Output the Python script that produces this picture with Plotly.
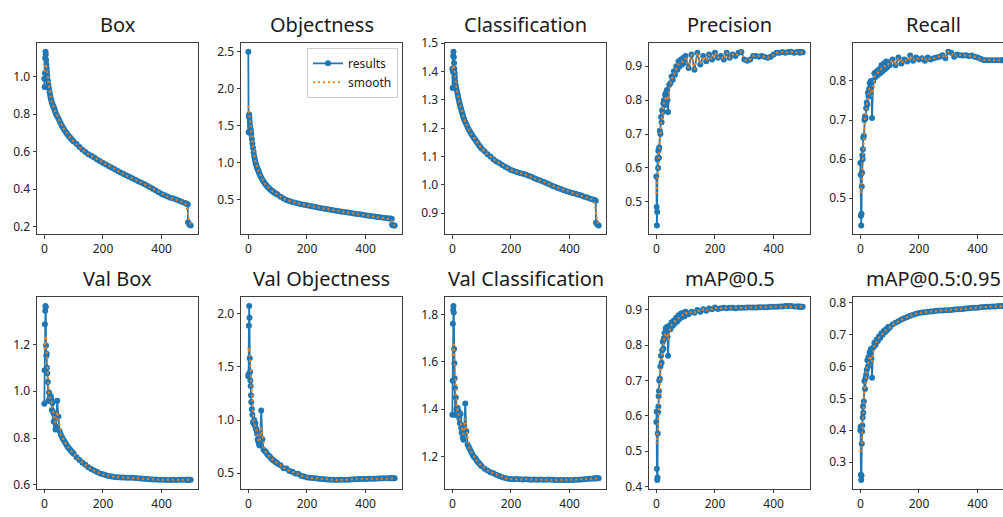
import numpy as np
import plotly.graph_objects as go

# ---------------- data ----------------
epochs = [0, 1, 2, 3, 4, 5, 6, 7, 8, 9, 10,
          12, 14, 16, 18, 20, 22, 24, 26, 28, 30, 32, 34, 36, 38, 40,
          44, 48, 52, 56, 60, 64, 68, 72, 76, 80, 84, 88, 92, 96, 100,
          110, 120, 130, 140, 150, 160, 170, 180, 190, 200,
          210, 220, 230, 240, 250, 260, 270, 280, 290, 300,
          310, 320, 330, 340, 350, 360, 370, 380, 390, 400,
          410, 420, 430, 440, 450, 460, 470, 480,
          485, 489, 490, 494, 499]

box = [0.99, 0.945, 1.02, 1.10, 1.134, 1.12, 1.09, 1.065, 1.045, 1.025, 1.005,
       0.98, 0.958, 0.938, 0.918, 0.90, 0.885, 0.872, 0.862, 0.852, 0.845, 0.837, 0.829, 0.82, 0.81, 0.802,
       0.789, 0.777, 0.764, 0.751, 0.738, 0.728, 0.718, 0.708, 0.699, 0.691, 0.683, 0.676, 0.668, 0.661, 0.655,
       0.641, 0.625, 0.611, 0.598, 0.587, 0.578, 0.569, 0.558, 0.549, 0.54,
       0.532, 0.523, 0.514, 0.506, 0.497, 0.489, 0.481, 0.473, 0.466, 0.458,
       0.451, 0.443, 0.436, 0.428, 0.42, 0.411, 0.402, 0.393, 0.384, 0.375,
       0.368, 0.361, 0.355, 0.35, 0.345, 0.338, 0.332, 0.326,
       0.322, 0.318, 0.224, 0.212, 0.206]

objectness = [2.5, 1.41, 1.63, 1.65, 1.6, 1.55, 1.5, 1.46, 1.44, 1.41, 1.38,
              1.32, 1.26, 1.2, 1.14, 1.09, 1.05, 1.01, 0.98, 0.955, 0.93, 0.91, 0.89, 0.87, 0.85, 0.83,
              0.80, 0.77, 0.745, 0.72, 0.70, 0.68, 0.663, 0.648, 0.634, 0.621, 0.609, 0.598, 0.587, 0.577, 0.567,
              0.54, 0.515, 0.497, 0.482, 0.468, 0.457, 0.447, 0.438, 0.43, 0.423,
              0.416, 0.408, 0.40, 0.392, 0.385, 0.378, 0.37, 0.363, 0.356, 0.35,
              0.344, 0.338, 0.332, 0.326, 0.32, 0.314, 0.308, 0.302, 0.296, 0.29,
              0.284, 0.278, 0.272, 0.267, 0.262, 0.257, 0.252, 0.247,
              0.245, 0.243, 0.16, 0.152, 0.15]

classification = [1.41, 1.342, 1.40, 1.455, 1.47, 1.45, 1.43, 1.41, 1.395, 1.38, 1.365,
                  1.35, 1.34, 1.33, 1.32, 1.31, 1.30, 1.29, 1.282, 1.275, 1.268, 1.26, 1.252, 1.245, 1.238, 1.231,
                  1.222, 1.213, 1.204, 1.195, 1.188, 1.181, 1.175, 1.168, 1.162, 1.156, 1.15, 1.144, 1.138, 1.133, 1.127,
                  1.118, 1.108, 1.10, 1.09, 1.082, 1.077, 1.07, 1.064, 1.058, 1.052,
                  1.049, 1.045, 1.042, 1.039, 1.036, 1.032, 1.028, 1.023, 1.019, 1.015,
                  1.011, 1.006, 1.002, 0.997, 0.993, 0.989, 0.985, 0.981, 0.977, 0.974,
                  0.971, 0.968, 0.965, 0.962, 0.958, 0.955, 0.951, 0.948,
                  0.946, 0.944, 0.866, 0.86, 0.856]

precision = [0.575, 0.485, 0.43, 0.47, 0.625, 0.63, 0.60, 0.65, 0.655, 0.63, 0.66,
             0.71, 0.70, 0.75, 0.735, 0.77, 0.765, 0.79, 0.80, 0.785, 0.815, 0.82, 0.805, 0.83, 0.80, 0.765,
             0.845, 0.85, 0.87, 0.86, 0.885, 0.875, 0.90, 0.89, 0.915, 0.90, 0.92, 0.905, 0.925, 0.91, 0.93,
             0.895, 0.935, 0.89, 0.94, 0.905, 0.93, 0.915, 0.935, 0.92, 0.94,
             0.925, 0.93, 0.92, 0.94, 0.925, 0.935, 0.93, 0.94, 0.942, 0.92,
             0.916, 0.92, 0.93, 0.93, 0.928, 0.93, 0.927, 0.925, 0.928, 0.935,
             0.94, 0.94, 0.942, 0.94, 0.942, 0.943, 0.94, 0.942,
             0.941, 0.942, 0.94, 0.942, 0.941]

recall = [0.59, 0.56, 0.455, 0.43, 0.46, 0.53, 0.565, 0.61, 0.60, 0.625, 0.655,
          0.66, 0.70, 0.71, 0.705, 0.73, 0.745, 0.74, 0.77, 0.76, 0.78, 0.795, 0.77, 0.80, 0.785, 0.705,
          0.80, 0.82, 0.81, 0.825, 0.815, 0.83, 0.82, 0.84, 0.825, 0.845, 0.83, 0.85, 0.835, 0.848, 0.84,
          0.855, 0.84, 0.86, 0.845, 0.855, 0.85, 0.865, 0.852, 0.86, 0.855,
          0.858, 0.852, 0.86, 0.855, 0.858, 0.86, 0.862, 0.866, 0.858, 0.875,
          0.872, 0.862, 0.868, 0.866, 0.865, 0.866, 0.864, 0.865, 0.862, 0.86,
          0.857, 0.854, 0.853, 0.853, 0.853, 0.853, 0.853, 0.853,
          0.853, 0.853, 0.853, 0.853, 0.853]

val_box = [0.947, 1.09, 1.286, 1.344, 1.364, 1.36, 1.196, 1.152, 1.16, 1.10, 1.077,
           1.04, 0.958, 0.995, 0.97, 0.96, 0.98, 0.965, 0.92, 0.95, 0.91, 0.87, 0.90, 0.88, 0.837, 0.85,
           0.96, 0.892, 0.83, 0.815, 0.805, 0.795, 0.787, 0.779, 0.77, 0.762, 0.757, 0.75, 0.744, 0.739, 0.733,
           0.718, 0.706, 0.695, 0.686, 0.675, 0.668, 0.661, 0.655, 0.649, 0.645,
           0.641, 0.638, 0.636, 0.634, 0.633, 0.632, 0.632, 0.631, 0.631, 0.63,
           0.629, 0.628, 0.627, 0.626, 0.625, 0.624, 0.623, 0.623, 0.622, 0.622,
           0.622, 0.621, 0.621, 0.622, 0.621, 0.622, 0.622, 0.622,
           0.622, 0.622, 0.622, 0.622, 0.622]

val_objectness = [1.41, 1.43, 1.885, 2.07, 1.96, 1.58, 1.45, 1.37, 1.32, 1.233, 1.17,
                  1.10, 1.05, 0.98, 0.97, 1.0, 0.95, 0.97, 0.92, 0.90, 0.87, 0.82, 0.80, 0.78, 0.76, 0.80,
                  1.09, 0.82, 0.72, 0.71, 0.70, 0.68, 0.67, 0.66, 0.645, 0.635, 0.625, 0.618, 0.605, 0.60, 0.59,
                  0.575, 0.548, 0.545, 0.522, 0.515, 0.497, 0.495, 0.476, 0.47, 0.46,
                  0.457, 0.455, 0.452, 0.448, 0.445, 0.444, 0.442, 0.44, 0.438, 0.437,
                  0.438, 0.438, 0.439, 0.44, 0.442, 0.443, 0.444, 0.445, 0.446, 0.447,
                  0.448, 0.449, 0.449, 0.45, 0.451, 0.452, 0.452, 0.452,
                  0.452, 0.452, 0.452, 0.452, 0.452]

val_classification = [1.376, 1.52, 1.762, 1.82, 1.837, 1.81, 1.655, 1.595, 1.53, 1.49, 1.375,
                      1.45, 1.40, 1.39, 1.405, 1.38, 1.39, 1.36, 1.34, 1.38, 1.32, 1.30, 1.33, 1.28, 1.27, 1.30,
                      1.424, 1.307, 1.25, 1.24, 1.23, 1.22, 1.21, 1.20, 1.195, 1.19, 1.18, 1.175, 1.17, 1.163, 1.158,
                      1.148, 1.14, 1.133, 1.128, 1.122, 1.117, 1.112, 1.108, 1.105, 1.104,
                      1.103, 1.104, 1.103, 1.102, 1.103, 1.102, 1.101, 1.102, 1.101, 1.102,
                      1.101, 1.101, 1.102, 1.101, 1.1, 1.1, 1.1, 1.1, 1.1, 1.1,
                      1.1, 1.101, 1.101, 1.102, 1.103, 1.104, 1.105, 1.106,
                      1.106, 1.107, 1.107, 1.107, 1.107]

map50 = [0.582, 0.612, 0.45, 0.418, 0.425, 0.55, 0.61, 0.626, 0.655, 0.67, 0.70,
         0.705, 0.74, 0.77, 0.75, 0.785, 0.81, 0.79, 0.82, 0.835, 0.82, 0.848, 0.83, 0.852, 0.825, 0.77,
         0.855, 0.845, 0.865, 0.855, 0.87, 0.862, 0.878, 0.868, 0.885, 0.875, 0.89, 0.88, 0.892, 0.882, 0.895,
         0.888, 0.895, 0.892, 0.90, 0.895, 0.902, 0.898, 0.904, 0.902, 0.907,
         0.903, 0.905, 0.906, 0.905, 0.906, 0.906, 0.905, 0.906, 0.906, 0.906,
         0.907, 0.907, 0.907, 0.907, 0.908, 0.908, 0.908, 0.908, 0.909, 0.909,
         0.909, 0.91, 0.91, 0.911, 0.911, 0.911, 0.91, 0.91,
         0.91, 0.909, 0.909, 0.909, 0.909]

map50_95 = [0.40, 0.411, 0.26, 0.244, 0.258, 0.358, 0.396, 0.415, 0.44, 0.475, 0.455,
            0.49, 0.555, 0.53, 0.565, 0.575, 0.59, 0.62, 0.60, 0.63, 0.615, 0.645, 0.63, 0.655, 0.625, 0.565,
            0.66, 0.675, 0.668, 0.685, 0.68, 0.695, 0.69, 0.705, 0.70, 0.712, 0.708, 0.718, 0.715, 0.725, 0.722,
            0.732, 0.738, 0.742, 0.748, 0.752, 0.756, 0.76, 0.763, 0.766, 0.768,
            0.77, 0.771, 0.772, 0.773, 0.774, 0.775, 0.776, 0.776, 0.777, 0.777,
            0.778, 0.779, 0.78, 0.78, 0.781, 0.782, 0.783, 0.784, 0.785, 0.785,
            0.786, 0.787, 0.788, 0.788, 0.789, 0.789, 0.79, 0.79,
            0.79, 0.79, 0.79, 0.79, 0.79]

titles = ["Box", "Objectness", "Classification", "Precision", "Recall",
          "Val Box", "Val Objectness", "Val Classification", "mAP@0.5", "mAP@0.5:0.95"]
x_ticks = [0, 200, 400]
y_ticks = [
    [0.2, 0.4, 0.6, 0.8, 1.0],
    [0.5, 1.0, 1.5, 2.0, 2.5],
    [0.9, 1.0, 1.1, 1.2, 1.3, 1.4, 1.5],
    [0.5, 0.6, 0.7, 0.8, 0.9],
    [0.5, 0.6, 0.7, 0.8],
    [0.6, 0.8, 1.0, 1.2],
    [0.5, 1.0, 1.5, 2.0],
    [1.2, 1.4, 1.6, 1.8],
    [0.4, 0.5, 0.6, 0.7, 0.8, 0.9],
    [0.3, 0.4, 0.5, 0.6, 0.7, 0.8],
]
series = [box, objectness, classification, precision, recall,
          val_box, val_objectness, val_classification, map50, map50_95]

# ---------------- helpers ----------------
W, H = 1003, 517
ep = np.array(epochs, dtype=float)
for s in series:
    assert len(s) == len(epochs)


def smooth(y, sigma=3.0):
    y = np.asarray(y, dtype=float)
    d = ep[:, None] - ep[None, :]
    w = np.exp(-0.5 * (d / sigma) ** 2)
    return (w @ y) / w.sum(axis=1)


col_left = [37, 241, 445, 649, 853]
col_w = 161
row_top = [35, 297]
row_h = 197
title_y = [16, 278]

BLUE = "#1f77b4"
ORANGE = "#ff7f0e"
AX = "#3d3d3d"
FONT = "Noto Sans"

xmin, xmax = min(epochs), max(epochs)
xpad = 0.05 * (xmax - xmin)
x_lo, x_hi = xmin - xpad, xmax + xpad

fig = go.Figure()
layout = dict(
    width=W, height=H, margin=dict(l=0, r=0, t=0, b=0, pad=0),
    paper_bgcolor="white", plot_bgcolor="white",
    font=dict(family=FONT, size=12, color="#222222"),
    showlegend=True,
    legend=dict(x=398 / W, xanchor="right", y=1 - 40 / H, yanchor="top",
                bgcolor="rgba(255,255,255,0.85)", bordercolor="#cccccc", borderwidth=1,
                font=dict(family=FONT, size=12, color="#222222"),
                tracegroupgap=0, itemwidth=30),
    annotations=[],
)

for i, (vals, title) in enumerate(zip(series, titles)):
    r, c = divmod(i, 5)
    sfx = "" if i == 0 else str(i + 1)
    left = col_left[c]
    right = min(left + col_w, W)
    # x range scaled so the (cropped) last column keeps the same epoch-per-pixel scale
    x_hi_here = x_lo + (x_hi - x_lo) * (right - left) / col_w
    top = row_top[r]
    bot = top + row_h
    ylo, yhi = min(vals), max(vals)
    ypad = 0.05 * (yhi - ylo)
    last_col = (right - left) < col_w

    axis_common = dict(showgrid=False, zeroline=False, showline=True, linecolor=AX, linewidth=1,
                       ticks="outside", ticklen=3.5, tickwidth=1, tickcolor=AX,
                       tickfont=dict(family=FONT, size=12, color="#222222"))
    layout["xaxis" + sfx] = dict(domain=[left / W, right / W], range=[x_lo, x_hi_here],
                                 anchor="y" + sfx, tickvals=x_ticks, mirror=True, **axis_common)
    layout["yaxis" + sfx] = dict(domain=[1 - bot / H, 1 - top / H], range=[ylo - ypad, yhi + ypad],
                                 anchor="x" + sfx, tickvals=y_ticks[i], tickformat=".1f",
                                 mirror=(not last_col), **axis_common)

    fig.add_trace(go.Scatter(
        x=epochs, y=vals, mode="lines+markers", name="results",
        line=dict(color=BLUE, width=1.8), marker=dict(color=BLUE, size=6),
        xaxis="x" + sfx, yaxis="y" + sfx, legendgroup="results", showlegend=(i == 1)))
    fig.add_trace(go.Scatter(
        x=epochs, y=smooth(vals), mode="lines", name="smooth",
        line=dict(color=ORANGE, width=2, dash="2px,3px"),
        xaxis="x" + sfx, yaxis="y" + sfx, legendgroup="smooth", showlegend=(i == 1)))

    layout["annotations"].append(dict(
        text=title, x=(left + col_w / 2) / W, y=1 - title_y[r] / H, xref="paper", yref="paper",
        xanchor="center", yanchor="middle", showarrow=False,
        font=dict(family=FONT, size=20, color="#1a1a1a")))

fig.update_layout(**layout)
fig.write_html("out.html",
               config={"displayModeBar": False, "staticPlot": True},
               post_script="document.body.style.margin='0px';document.body.style.overflow='hidden';")
